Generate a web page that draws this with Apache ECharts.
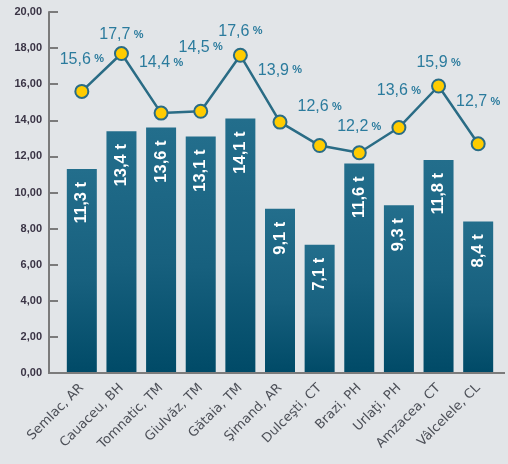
<!DOCTYPE html>
<html>
<head>
<meta charset="utf-8">
<script src="https://cdn.jsdelivr.net/npm/echarts@6/dist/echarts.min.js"></script>
<style>
  html, body { margin: 0; padding: 0; background: #e2e5e8; }
  #chart { width: 508px; height: 464px; }
</style>
</head>
<body>
<div id="chart"></div>
<script>
// Localities (county code after the comma)
const places = ['Semlac, AR', 'Cauaceu, BH', 'Tomnatic, TM', 'Giulvăz, TM', 'Gătaia, TM',
  'Şimand, AR', 'Dulceşti, CT', 'Brazi, PH', 'Urlaţi, PH', 'Amzacea, CT', 'Vâlcelele, CL'];
// Yield, tonnes per hectare (bars)
const yieldT = [11.3, 13.4, 13.6, 13.1, 14.1, 9.1, 7.1, 11.6, 9.3, 11.8, 8.4];
// Share, percent (line)
const sharePct = [15.6, 17.7, 14.4, 14.5, 17.6, 13.9, 12.6, 12.2, 13.6, 15.9, 12.7];
// Value axis range and step
const axisMin = 0, axisMax = 20, axisStep = 2;

// How far each percent label sits above its point (px), to keep labels off the line
const labelLift = [32, 19, 50, 64, 24, 52, 39, 26, 37, 23, 42];

const fmt1 = v => v.toFixed(1).replace('.', ',');
const fmt2 = v => v.toFixed(2).replace('.', ',');

const chart = echarts.init(document.getElementById('chart'), null, { renderer: 'canvas' });

const lineData = sharePct.map((v, i) => ({
  value: v,
  label: { offset: [0, -labelLift[i]] }
}));

const option = {
  backgroundColor: '#e2e5e8',
  animation: false,
  grid: { left: 62, right: 10, top: 12, bottom: 91, containLabel: false },
  xAxis: {
    type: 'category',
    data: places,
    axisLine: { show: false },
    axisTick: { show: false },
    axisLabel: {
      rotate: 45,
      margin: 13,
      interval: 0,
      color: '#4d5058',
      fontFamily: 'DejaVu Sans',
      fontSize: 13
    }
  },
  yAxis: {
    type: 'value',
    min: axisMin, max: axisMax, interval: axisStep,
    offset: 13,
    splitLine: { show: false },
    axisLine: { show: true, lineStyle: { color: '#7b7b7b', width: 2 } },
    axisTick: { show: true, inside: true, length: 9, lineStyle: { color: '#7b7b7b', width: 2 } },
    axisLabel: {
      margin: 7,
      color: '#3a3445',
      fontFamily: 'Liberation Sans',
      fontWeight: 'bold',
      fontSize: 11,
      formatter: v => fmt2(v)
    }
  },
  series: [
    {
      type: 'bar',
      data: yieldT,
      barWidth: 30,
      z: 2,
      itemStyle: {
        color: new echarts.graphic.LinearGradient(0, 0, 0, 1, [
          { offset: 0, color: '#236e8c' },
          { offset: 0.55, color: '#17607e' },
          { offset: 1, color: '#004a67' }
        ])
      },
      label: {
        show: true,
        position: 'insideTop',
        distance: 13,
        rotate: 90,
        align: 'right',
        verticalAlign: 'middle',
        color: '#ffffff',
        fontFamily: 'Liberation Sans',
        fontWeight: 'bold',
        fontSize: 16.5,
        formatter: p => fmt1(p.value) + ' t'
      }
    },
    {
      type: 'line',
      data: lineData,
      z: 5,
      symbol: 'circle',
      symbolSize: 13,
      lineStyle: { color: '#2a6c85', width: 2.5 },
      itemStyle: { color: '#ffcc00', borderColor: '#2a6c85', borderWidth: 2 },
      label: {
        show: true,
        position: 'inside',
        formatter: p => '{n|' + fmt1(p.value) + '} {p|%}',
        rich: {
          n: { fontFamily: 'Liberation Sans', fontSize: 16, color: '#2b7b9d' },
          p: { fontFamily: 'Liberation Sans', fontSize: 11, fontWeight: 'bold', color: '#2b7b9d' }
        }
      }
    }
  ]
};

chart.setOption(option);

// Baseline along the value 0, running the full width from the value axis
const y0 = chart.convertToPixel({ yAxisIndex: 0 }, axisMin);
chart.setOption({
  graphic: [{
    type: 'line',
    z: 10,
    shape: { x1: 48, y1: y0, x2: 505, y2: y0 },
    style: { stroke: '#7b7b7b', lineWidth: 2 }
  }]
});
</script>
</body>
</html>
